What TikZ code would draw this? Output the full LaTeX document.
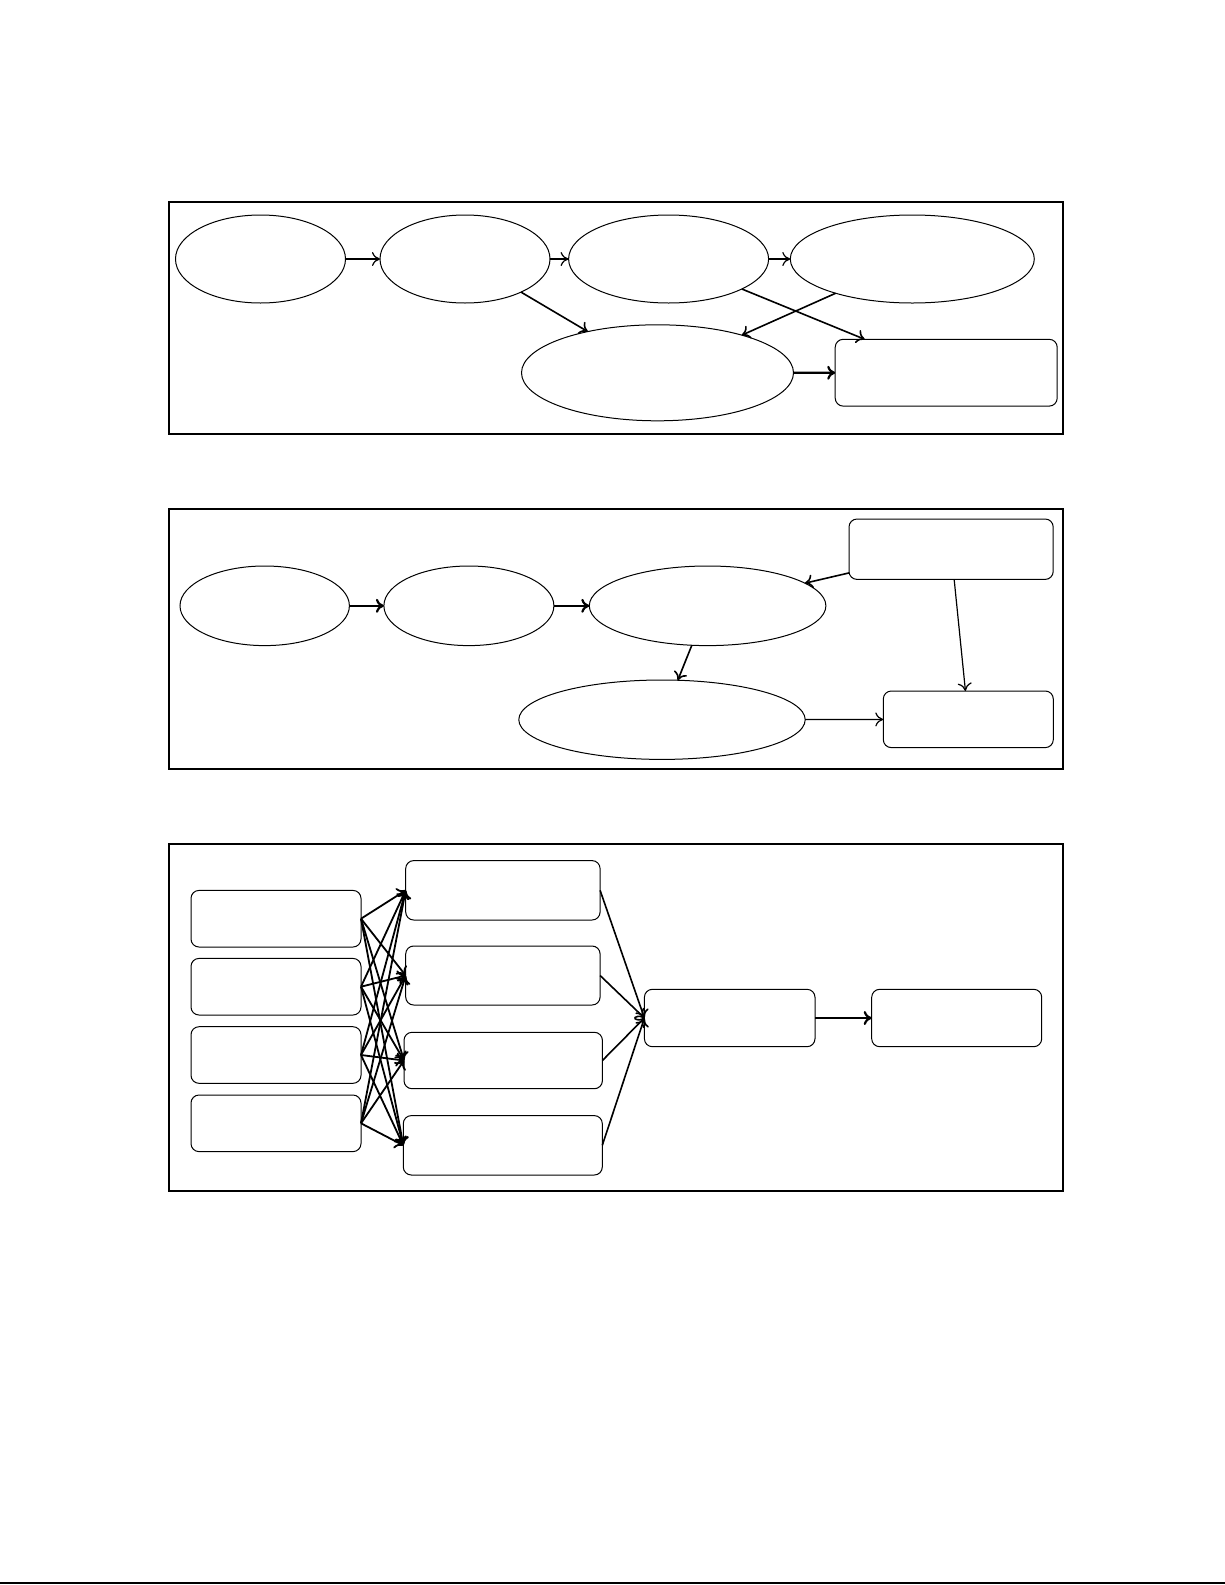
\documentclass[tikz,border=0pt]{standalone}
\usepackage{tikz}
\usetikzlibrary{shapes.geometric}
\usetikzlibrary{arrows.meta}
\usetikzlibrary{positioning}

\tikzset{
  oval/.style={draw, ellipse, line width=0.5pt, inner sep=0pt, outer sep=0pt},
  box/.style={draw, rectangle, rounded corners=4pt, line width=0.5pt, inner sep=0pt, outer sep=0pt},
  frame/.style={draw, line width=0.8pt},
  link/.style={->, line width=0.6pt},
  heavy/.style={->, line width=1.1pt},
  >={To[length=4pt,width=7pt]}
}

\begin{document}
\begin{tikzpicture}[x=0.5pt, y=-0.5pt]
  \useasboundingbox (0,0) rectangle (1225,1585);

  % first panel
  \draw[frame] (169,202) rectangle (1063,434);
  \node[oval, minimum width=85pt, minimum height=44pt] (e1) at (260.5,259) {};
  \node[oval, minimum width=85pt, minimum height=44pt] (e2) at (465,259) {};
  \node[oval, minimum width=100pt, minimum height=44pt] (e3) at (668.6,259) {};
  \node[oval, minimum width=122pt, minimum height=44pt] (e4) at (912.3,259) {};
  \node[oval, minimum width=136pt, minimum height=48pt] (e5) at (657.5,372.8) {};
  \node[box, minimum width=111pt, minimum height=33.4pt] (r1) at (946.2,372.7) {};
  \draw[link] (e1) -- (e2);
  \draw[link] (e2) -- (e3);
  \draw[link] (e3) -- (e4);
  \draw[link, line width=0.8pt] (e2) -- (e5);
  \draw[link, line width=0.8pt] (e3) -- (r1);
  \draw[link, line width=0.8pt] (e4) -- (e5);
  \draw[heavy] (e5) -- (r1);

  % second panel
  \draw[frame] (169,509) rectangle (1063,769);
  \node[oval, minimum width=84.7pt, minimum height=39.8pt] (f1) at (264.7,605.8) {};
  \node[oval, minimum width=85pt, minimum height=39.8pt] (f2) at (468.9,605.8) {};
  \node[oval, minimum width=118.3pt, minimum height=39.8pt] (f3) at (707.6,605.8) {};
  \node[oval, minimum width=143.2pt, minimum height=39.7pt] (f4) at (662,719.7) {};
  \node[box, minimum width=102.1pt, minimum height=30.2pt] (r2) at (951.1,549.2) {};
  \node[box, minimum width=85pt, minimum height=28.3pt] (r3) at (968.3,719.3) {};
  \draw[heavy] (f1) -- (f2);
  \draw[heavy] (f2) -- (f3);
  \draw[link, line width=0.8pt] (r2) -- (f3);
  \draw[link, line width=0.8pt] (f3) -- (f4);
  \draw[link] (r2) -- (r3);
  \draw[link] (f4) -- (r3);

  % third panel
  \draw[frame] (169,844) rectangle (1063,1191);
  \foreach \n/\y in {1/918.7, 2/986.7, 3/1055, 4/1123.3}
    \node[box, minimum width=85pt, minimum height=28.3pt] (l\n) at (276,\y) {};
  \node[box, minimum width=97.2pt, minimum height=29.7pt] (m1) at (502.9,890.3) {};
  \node[box, minimum width=97.2pt, minimum height=29.5pt] (m2) at (502.9,975.5) {};
  \node[box, minimum width=99.2pt, minimum height=28.2pt] (m3) at (503.2,1060.5) {};
  \node[box, minimum width=99.5pt, minimum height=29.7pt] (m4) at (502.8,1145.3) {};
  \node[box, minimum width=85.3pt, minimum height=28.7pt] (p) at (729.7,1018) {};
  \node[box, minimum width=85pt, minimum height=28.7pt] (q) at (956.7,1018) {};
  \foreach \i in {1,...,4}
    \foreach \j in {1,...,4}
      \draw[link, line width=0.9pt] (l\i.east) -- (m\j.west);
  \foreach \j in {1,...,4}
    \draw[link, line width=0.8pt] (m\j.east) -- (p.west);
  \draw[heavy] (p) -- (q);

  \draw[line width=0.8pt] (0,1583) -- (1225,1583);
\end{tikzpicture}
\end{document}
